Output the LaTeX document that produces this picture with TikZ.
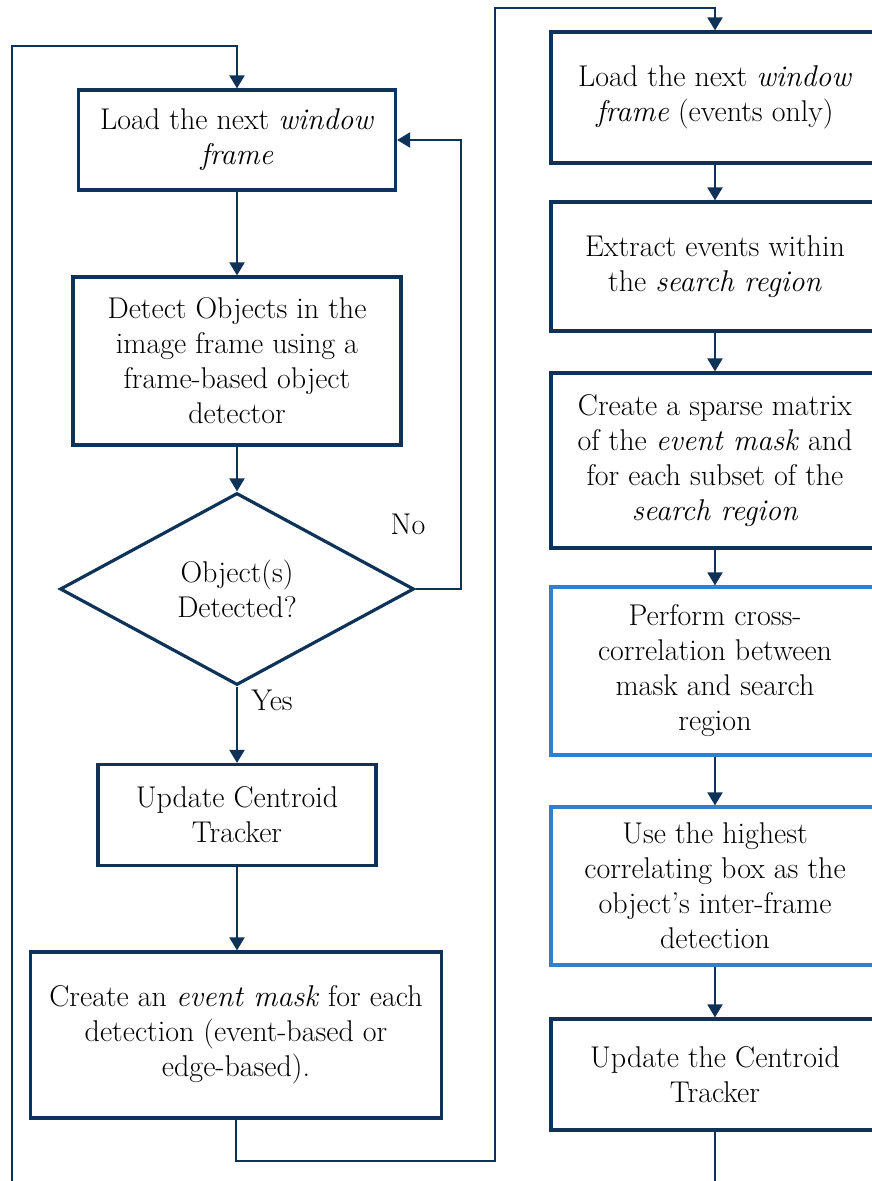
\documentclass[tikz,border=0pt]{standalone}
\usepackage{fontspec}
\usepackage{xcolor}
\usepackage{tikz}
\usetikzlibrary{arrows.meta,positioning,shapes.geometric,calc}
\definecolor{navy}{HTML}{0F3358}
\definecolor{lblue}{HTML}{2F80D0}
\tikzset{
  box/.style={draw=navy,line width=3.2pt,align=center,font=\fontsize{30}{35}\selectfont,inner sep=4pt},
  bbox/.style={box,draw=lblue},
  dec/.style={draw=navy,line width=3.2pt,shape=diamond,align=center,font=\fontsize{30}{35}\selectfont,inner sep=0pt,aspect=1.84,minimum width=354pt,minimum height=192pt},
  lbl/.style={font=\fontsize{30}{35}\selectfont},
  arr/.style={-{Triangle[length=13pt,width=15pt]},draw=navy,line width=2pt},
  ln/.style={draw=navy,line width=2pt},
}
\begin{document}
\begin{tikzpicture}[x=1pt,y=-1pt]
\useasboundingbox (0,0) rectangle (872,1181);
\clip (0,0) rectangle (872,1181);
% left column
\node[box,minimum width=317pt,minimum height=100pt] (load) at (237,140) {Load the next \textit{window}\\\textit{frame}};
\node[box,minimum width=328pt,minimum height=168pt] (detect) at (237,361) {Detect Objects in the\\image frame using a\\frame-based object\\detector};
\node[dec] (check) at (237,589) {Object(s)\\Detected?};
\node[box,minimum width=278pt,minimum height=101pt] (upd) at (237,815) {Update Centroid\\Tracker};
\node[box,minimum width=411pt,minimum height=166pt] (mask) at (236,1035) {Create an \textit{event mask} for each\\detection (event-based or\\edge-based).};
\node[lbl] (no) at (408,524) {No};
\node[lbl] (yes) at (272,700) {Yes};
% right column
\node[box,minimum width=328pt,minimum height=131pt] (rload) at (715,97.5) {Load the next \textit{window}\\\textit{frame} (events only)};
\node[box,minimum width=328pt,minimum height=129pt] (extract) at (715,266.5) {Extract events within\\the \textit{search region}};
\node[box,minimum width=328pt,minimum height=175pt] (sparse) at (715,460.5) {Create a sparse matrix\\of the \textit{event mask} and\\for each subset of the\\\textit{search region}};
\node[bbox,minimum width=328pt,minimum height=168pt] (corr) at (715,671) {Perform cross-\\correlation between\\mask and search\\region};
\node[bbox,minimum width=328pt,minimum height=158pt] (best) at (715,886) {Use the highest\\correlating box as the\\object's inter-frame\\detection};
\node[box,minimum width=328pt,minimum height=111pt] (rupd) at (715,1074.5) {Update the Centroid\\Tracker};
% loop points
\coordinate (lbot) at (12,1190);
\coordinate (ltop) at (237,46);
\coordinate (c1) at (495,1161);
\coordinate (c2) at (495,8);
\coordinate (rbot) at (715,1190);
% connectors
\draw[arr] (load) -- (detect);
\draw[arr] (detect) -- (check);
\draw[arr] (check) -- (upd);
\draw[arr] (upd.south) -- (upd.south |- mask.north);
\draw[arr] (check.east) -- ++(45,0) |- (load.east);
\draw[arr] (lbot) |- (ltop) -- (load.north);
\draw[arr] (mask.south) |- (c1) -- (c2) -| (rload.north);
\draw[arr] (rload) -- (extract);
\draw[arr] (extract) -- (sparse);
\draw[arr] (sparse) -- (corr);
\draw[arr] (corr) -- (best);
\draw[arr] (best) -- (rupd);
\draw[ln] (rupd.south) -- (rbot);
\end{tikzpicture}
\end{document}
